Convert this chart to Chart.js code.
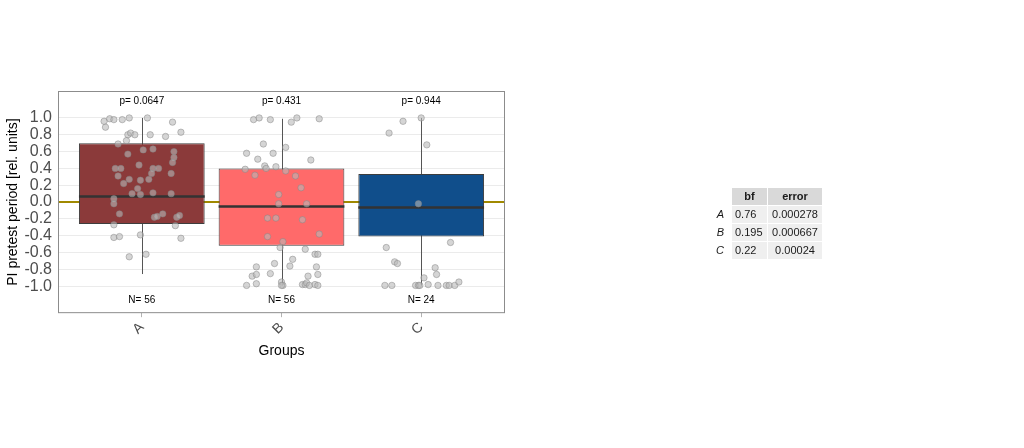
<!DOCTYPE html>
<html>
<head>
<meta charset="utf-8">
<script src="https://cdn.jsdelivr.net/npm/chart.js@4.4.1/dist/chart.umd.min.js"></script>
<style>
  body { margin: 0; background: #fff; font-family: "Liberation Sans", Arial, sans-serif; }
  #wrap { position: absolute; left: 0; top: 0; width: 1024px; height: 448px; }
  #bfTable { position: absolute; left: 703px; top: 187px; border-collapse: separate; border-spacing: 1px; font-size: 11px; color: #1a1a1a; }
  #bfTable td, #bfTable th { height: 17px; padding: 0; line-height: 17px; }
  #bfTable th { background: #d9d9d9; font-weight: bold; text-align: center; }
  #bfTable td { background: #efefef; }
  #bfTable td.lab { background: #fff; font-style: italic; text-align: right; padding-right: 7px; width: 20px; }
  #bfTable .bf { width: 32px; text-align: left; padding-left: 3px; }
  #bfTable .err { width: 54px; text-align: center; }
</style>
</head>
<body>
<div id="wrap"><canvas id="myChart"></canvas></div>
<table id="bfTable"></table>
<script>
// groups and box stats
const groups = ["A", "B", "C"];
const boxLow = [-0.26, -0.52, -0.41];
const boxHigh = [0.70, 0.40, 0.335];
const medians = [0.065, -0.053, -0.065];
const whiskerLow = [-0.855, -0.99, -0.99];
const whiskerHigh = [1.0, 0.99, 1.0];
const boxColors = ["#8B3A3A", "#FF6A6A", "#104E8B"];
const pValues = ["0.0647", "0.431", "0.944"];
const counts = [56, 56, 24];
const yTicks = [-1.0, -0.8, -0.6, -0.4, -0.2, 0.0, 0.2, 0.4, 0.6, 0.8, 1.0];

// jittered points: offset from group centre and value
const jitterA = [-0.27,-0.26,-0.23,-0.20,-0.14,-0.09,0.04,0.22,-0.10,-0.08,-0.05,0.06,0.17,0.28,-0.11,-0.17,0.01,0.08,0.23,-0.10,0.23,0.22,-0.02,-0.19,-0.15,0.08,0.12,0.07,0.21,-0.17,-0.09,-0.13,-0.01,0.05,-0.03,-0.07,-0.01,0.08,0.21,-0.20,-0.20,-0.16,0.09,0.11,0.15,0.25,0.27,-0.20,0.24,-0.20,-0.16,-0.01,0.28,-0.09,0.03];
const valuesA = [0.96,0.89,0.99,0.98,0.98,1.00,1.00,0.95,0.80,0.82,0.80,0.80,0.78,0.83,0.73,0.69,0.62,0.63,0.60,0.57,0.53,0.47,0.44,0.40,0.40,0.40,0.40,0.34,0.34,0.31,0.27,0.22,0.26,0.27,0.16,0.10,0.09,0.11,0.10,0.04,-0.02,-0.14,-0.18,-0.17,-0.14,-0.18,-0.16,-0.27,-0.28,-0.42,-0.41,-0.39,-0.43,-0.65,-0.62];
const jitterB = [-0.20,-0.16,-0.08,0.07,0.11,0.27,-0.13,0.03,-0.25,-0.06,-0.17,0.21,-0.12,-0.11,-0.04,-0.26,0.03,-0.19,0.10,0.14,-0.02,-0.02,0.18,-0.10,-0.04,0.15,-0.10,0.01,0.27,-0.01,0.17,0.24,0.26,0.08,-0.05,0.06,-0.18,0.25,-0.21,-0.18,-0.08,0.19,0.26,-0.25,-0.18,0.00,0.01,0.00,0.15,0.17,0.18,0.20,0.24,0.26];
const valuesB = [0.98,1.00,0.98,0.95,1.00,0.99,0.69,0.65,0.58,0.58,0.51,0.50,0.43,0.40,0.42,0.39,0.37,0.32,0.31,0.17,0.09,-0.02,-0.02,-0.19,-0.19,-0.21,-0.41,-0.47,-0.38,-0.54,-0.56,-0.62,-0.62,-0.68,-0.73,-0.76,-0.77,-0.77,-0.88,-0.86,-0.85,-0.88,-0.86,-0.99,-0.97,-0.95,-0.99,-0.99,-0.98,-0.98,-0.96,-0.99,-0.98,-0.99];
const jitterC = [-0.13,0.00,-0.23,0.04,-0.02,-0.25,0.21,-0.19,-0.17,0.10,0.11,0.02,-0.26,-0.21,-0.04,-0.02,-0.01,0.05,0.12,0.18,0.20,0.24,0.27];
const valuesC = [0.96,1.00,0.82,0.68,-0.02,-0.54,-0.48,-0.71,-0.73,-0.78,-0.86,-0.90,-0.99,-0.99,-0.99,-0.99,-0.99,-0.98,-0.99,-0.99,-0.99,-0.99,-0.95];

// bayes factor table
const bfGroups = ["A", "B", "C"];
const bfValues = ["0.76", "0.195", "0.22"];
const bfErrors = ["0.000278", "0.000667", "0.00024"];

const refLine = 0;
const pLabelY = 1.2;
const nLabelY = -1.17;

// build table
const table = document.getElementById("bfTable");
let html = '<tr><th style="background:#fff"></th><th class="bf" style="text-align:center;padding:0;width:35px">bf</th><th class="err">error</th></tr>';
bfGroups.forEach((g, i) => {
  html += '<tr><td class="lab">' + g + '</td><td class="bf">' + bfValues[i] + '</td><td class="err">' + bfErrors[i] + '</td></tr>';
});
table.innerHTML = html;

// points for scatter
const jitters = [jitterA, jitterB, jitterC];
const vals = [valuesA, valuesB, valuesC];
const points = [];
vals.forEach((arr, g) => {
  arr.forEach((v, i) => points.push({ x: g + jitters[g][i], y: v }));
});

const boxPlugin = {
  id: "boxExtras",
  beforeDatasetsDraw(chart) {
    const { ctx, chartArea, scales } = chart;
    const x = scales.x, y = scales.y;
    ctx.save();
    // reference line
    ctx.strokeStyle = "#A08900";
    ctx.lineWidth = 2;
    ctx.beginPath();
    ctx.moveTo(chartArea.left, y.getPixelForValue(refLine));
    ctx.lineTo(chartArea.right, y.getPixelForValue(refLine));
    ctx.stroke();
    // whiskers
    ctx.strokeStyle = "#555555";
    ctx.lineWidth = 1;
    groups.forEach((g, i) => {
      const px = Math.round(x.getPixelForValue(i)) + 0.5;
      ctx.beginPath();
      ctx.moveTo(px, y.getPixelForValue(whiskerLow[i]));
      ctx.lineTo(px, y.getPixelForValue(whiskerHigh[i]));
      ctx.stroke();
    });
    ctx.restore();
  },
  afterDatasetDraw(chart, args) {
    if (args.index !== 0) return;
    const { ctx, scales } = chart;
    const meta = chart.getDatasetMeta(0);
    ctx.save();
    ctx.strokeStyle = "#333333";
    ctx.lineWidth = 2.5;
    meta.data.forEach((bar, i) => {
      const py = scales.y.getPixelForValue(medians[i]);
      ctx.beginPath();
      ctx.moveTo(bar.x - bar.width / 2, py);
      ctx.lineTo(bar.x + bar.width / 2, py);
      ctx.stroke();
    });
    ctx.restore();
  },
  afterDraw(chart) {
    const { ctx, chartArea, scales } = chart;
    ctx.save();
    ctx.strokeStyle = "#8c8c8c";
    ctx.lineWidth = 1;
    ctx.strokeRect(chartArea.left + 0.5, chartArea.top + 0.5, chartArea.width - 1, chartArea.height - 1);
    ctx.fillStyle = "#000";
    ctx.font = "10px 'Liberation Sans', Arial";
    ctx.textAlign = "center";
    ctx.textBaseline = "middle";
    groups.forEach((g, i) => {
      const px = scales.x.getPixelForValue(i);
      ctx.fillText("p= " + pValues[i], px, scales.y.getPixelForValue(pLabelY));
      ctx.fillText("N= " + counts[i], px, scales.y.getPixelForValue(nLabelY));
    });
    ctx.restore();
  }
};

const ctx = document.getElementById("myChart");
new Chart(ctx, {
  type: "bar",
  data: {
    datasets: [
      {
        type: "bar",
        data: groups.map((g, i) => ({ x: i, y: [boxLow[i], boxHigh[i]] })),
        backgroundColor: boxColors,
        borderColor: "#3d3d3d",
        borderWidth: 1,
        borderSkipped: false,
        barPercentage: 1,
        categoryPercentage: 0.9,
        order: 2,
      },
      {
        type: "scatter",
        data: points,
        pointRadius: 3.2,
        pointBackgroundColor: "rgba(185,185,185,0.6)",
        pointBorderColor: "rgba(130,130,130,0.6)",
        pointBorderWidth: 0.8,
        order: 1,
      },
    ],
  },
  options: {
    responsive: true,
    maintainAspectRatio: false,
    animation: false,
    layout: { padding: { top: 91, right: 519, bottom: 88, left: 5 } },
    plugins: { legend: { display: false }, tooltip: { enabled: false } },
    scales: {
      x: {
        type: "linear",
        min: -0.6,
        max: 2.6,
        offset: false,
        afterBuildTicks: (scale) => {
          scale.ticks = groups.map((g, i) => ({ value: i }));
        },
        ticks: {
          autoSkip: false,
          minRotation: 45,
          maxRotation: 45,
          padding: 2,
          color: "#4d4d4d",
          font: { family: "'Liberation Sans', Arial", size: 14 },
          callback: (v) => groups[v],
        },
        grid: { offset: false, drawOnChartArea: false, drawTicks: true, tickLength: 4, color: "#b3b3b3" },
        border: { display: false },
        title: {
          display: true,
          text: "Groups",
          color: "#000",
          font: { family: "'Liberation Sans', Arial", size: 14 },
          padding: { top: 3, bottom: 0 },
        },
      },
      y: {
        min: -1.32,
        max: 1.32,
        afterBuildTicks: (scale) => {
          scale.ticks = yTicks.map((v) => ({ value: v }));
        },
        afterFit: (scale) => {
          scale.width = 53;
        },
        ticks: {
          padding: 6,
          color: "#4d4d4d",
          font: { family: "'Liberation Sans', Arial", size: 16 },
          callback: (v) => Number(v).toFixed(1),
        },
        grid: { color: "#ebebeb", drawTicks: false },
        border: { display: false },
        title: {
          display: true,
          text: "PI pretest period [rel. units]",
          color: "#000",
          font: { family: "'Liberation Sans', Arial", size: 14 },
          padding: { top: 0, bottom: 2 },
        },
      },
    },
  },
  plugins: [boxPlugin],
});
</script>
</body>
</html>
